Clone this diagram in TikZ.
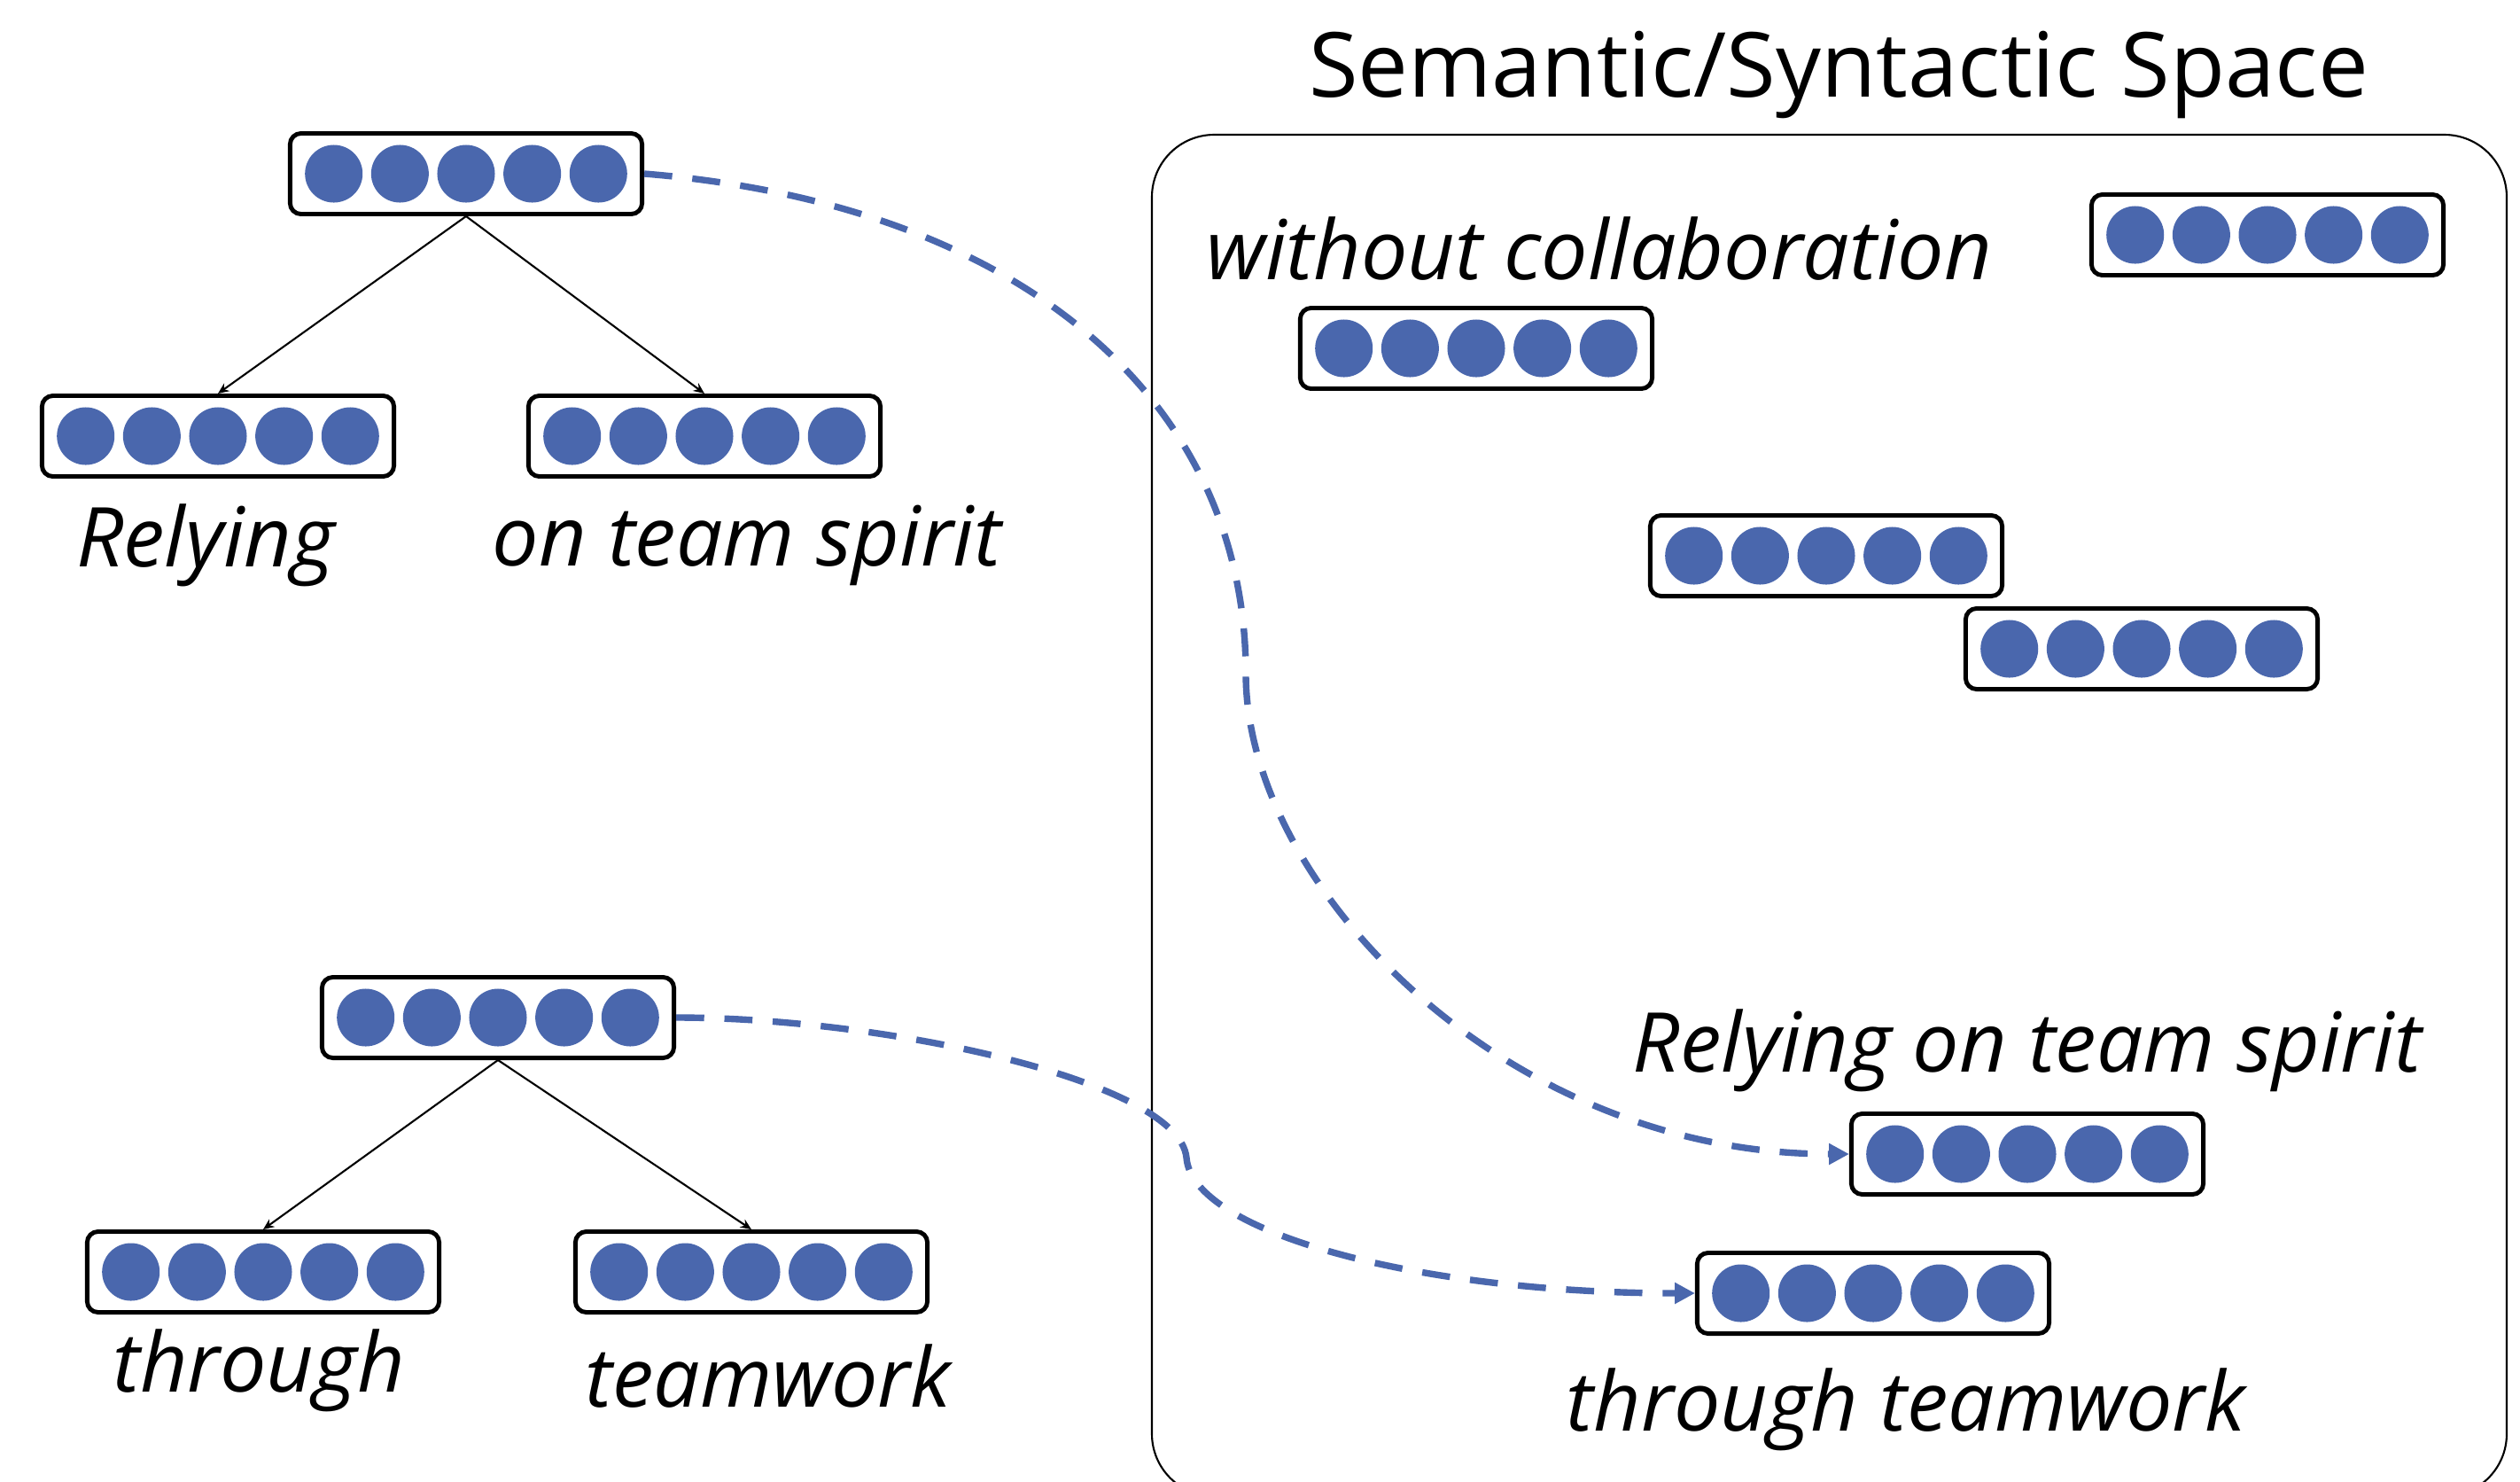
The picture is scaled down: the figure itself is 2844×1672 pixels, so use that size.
\documentclass[tikz,border=0pt]{standalone}
\usepackage{fontspec}
\setmainfont{Open Sans}
\usetikzlibrary{arrows.meta}
\definecolor{vblue}{HTML}{4A67AD}
\begin{document}
\begin{tikzpicture}[x=0.01cm,y=-0.01cm,
  vec/.style={draw=black, line width=1.4pt, rounded corners=3.5pt,
    minimum width=3.97cm, minimum height=0.91cm, inner sep=0pt,
    path picture={\foreach \i in {-2,...,2}
      \fill[vblue] ([xshift=\i*0.746cm]path picture bounding box.center) circle (0.325cm);}},
  lbl/.style={font=\fontsize{26.5}{30}\selectfont\itshape, inner sep=0pt},
  ttl/.style={font=\fontsize{28.8}{33}\selectfont, inner sep=0pt},
  tree/.style={line width=0.6pt, -{Stealth[length=3.5pt,width=3pt]}},
  link/.style={draw=vblue, line width=2.1pt, dash pattern=on 9pt off 6.5pt,
    -{Triangle[length=6.5pt,width=6.5pt]}}]
\clip (0,0) rectangle (2844,1672);
% semantic space frame
\draw[line width=0.6pt, rounded corners=20pt] (1300,152) rectangle (2829,1688);
\node[ttl] (title) at (2075,84) {Semantic/Syntactic Space};
% tree 1
\node[vec] (p1) at (526,196) {};
\node[vec] (a1) at (246,492) {};
\node[vec] (b1) at (795,492) {};
\node[lbl] (la1) at (232,615) {Relying};
\node[lbl] (lb1) at (843,615) {on team spirit};
\draw[tree] (p1.south) -- (a1.north);
\draw[tree] (p1.south) -- (b1.north);
% tree 2
\node[vec] (p2) at (562,1148) {};
\node[vec] (a2) at (297,1435) {};
\node[vec] (b2) at (848,1435) {};
\node[lbl] (la2) at (292,1546) {through};
\node[lbl] (lb2) at (867,1553) {teamwork};
\draw[tree] (p2.south) -- (a2.north);
\draw[tree] (p2.south) -- (b2.north);
% space vectors
\node[vec] (s1) at (2559,265) {};
\node[lbl] (ls2) at (1805,281) {without collaboration};
\node[vec] (s2) at (1666,393) {};
\node[vec] (s3) at (2061,627) {};
\node[vec] (s4) at (2417,732) {};
\node[lbl] (ls5) at (2288,1185) {Relying on team spirit};
\node[vec] (s5) at (2288,1302) {};
\node[vec] (s6) at (2114,1459) {};
\node[lbl] (ls6) at (2151,1590) {through teamwork};
% links
\coordinate (m1) at (1406,760);
\coordinate (m2) at (1339,1306);
\draw[link] (p1.east) .. controls (1150,230) and (1406,450) .. (m1)
  .. controls (1406,1000) and (1700,1302) .. (s5.west);
\draw[link] (p2.east) .. controls (1000,1148) and (1330,1220) .. (m2)
  .. controls (1345,1390) and (1600,1459) .. (s6.west);
\end{tikzpicture}
\end{document}
